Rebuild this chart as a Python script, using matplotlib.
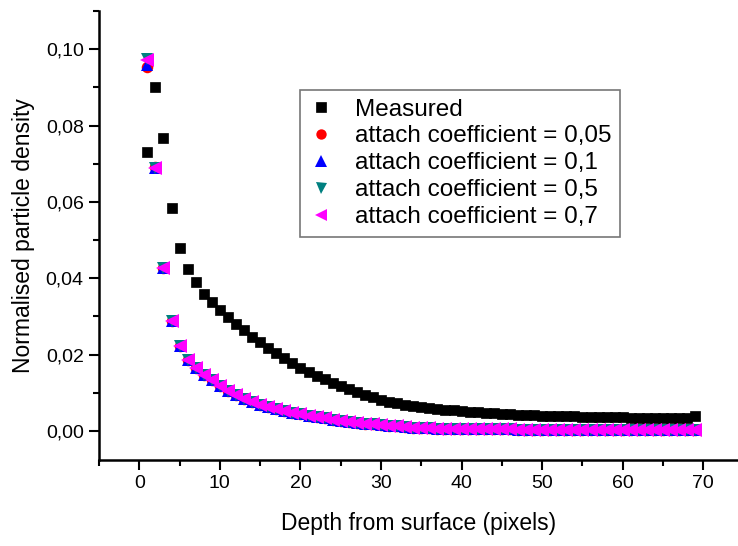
import numpy as np
import matplotlib.pyplot as plt
from matplotlib.ticker import FuncFormatter, MultipleLocator

plt.rcParams['font.family'] = ['Liberation Sans', 'DejaVu Sans']

# Depth from surface (pixels)
depth = list(range(1, 70))

# Measured normalised particle density
measured = [0.0730, 0.0902, 0.0767, 0.0584, 0.0479, 0.0425, 0.0389, 0.0360, 0.0337, 0.0317,
            0.0298, 0.0280, 0.0264, 0.0247, 0.0232, 0.0217, 0.0203, 0.0190, 0.0178, 0.0166,
            0.0155, 0.0145, 0.0135, 0.0126, 0.0117, 0.0109, 0.0101, 0.0094, 0.0088, 0.0082,
            0.0077, 0.0073, 0.0069, 0.0066, 0.0063, 0.0060, 0.0058, 0.0056, 0.0054, 0.0052,
            0.0050, 0.0049, 0.0047, 0.0046, 0.0045, 0.0044, 0.0043, 0.0042, 0.0041, 0.0040,
            0.0039, 0.0039, 0.0038, 0.0038, 0.0037, 0.0037, 0.0037, 0.0036, 0.0036, 0.0036,
            0.0035, 0.0035, 0.0035, 0.0035, 0.0035, 0.0035, 0.0034, 0.0035, 0.0038]

# simulated curves are practically identical from depth 3 onwards
sim_tail = [0.0428, 0.0288, 0.0222, 0.0186, 0.0164, 0.0147, 0.0133, 0.0119,
            0.0106, 0.0095, 0.0085, 0.0076, 0.0068, 0.0062, 0.0057, 0.0052, 0.0048, 0.0044,
            0.0040, 0.0036, 0.0033, 0.0030, 0.0027, 0.0024, 0.0021, 0.0019, 0.0017, 0.0015,
            0.0013, 0.0012, 0.0010, 0.0009, 0.0008, 0.0007, 0.0006, 0.0006, 0.0005, 0.0005,
            0.0005, 0.0004, 0.0004, 0.0004, 0.0004, 0.0004, 0.0003, 0.0003, 0.0003, 0.0003,
            0.0003, 0.0003, 0.0003, 0.0003, 0.0002, 0.0002, 0.0002, 0.0002, 0.0002, 0.0002,
            0.0002, 0.0002, 0.0002, 0.0002, 0.0002, 0.0002, 0.0002, 0.0002, 0.0002]

att_005 = [0.0953, 0.0692] + sim_tail
att_01 = [0.0958, 0.0690] + sim_tail
att_05 = [0.0975, 0.0689] + sim_tail
att_07 = [0.0972, 0.0689] + sim_tail

fig = plt.figure(figsize=(7.38, 5.46), dpi=100)
ax = fig.add_axes([99 / 738, 1 - 460 / 546, 1 - 99 / 738, (460 - 11) / 546])

ax.plot(depth, measured, 's', color='black', ms=7.3, mew=0.5, label='Measured')
ax.plot(depth, att_005, 'o', color='#FF0000', ms=8.3, mew=0, label='attach coefficient = 0,05')
ax.plot(depth, att_01, '^', color='#0000FF', ms=8.8, mew=0, label='attach coefficient = 0,1')
ax.plot(depth, att_05, 'v', color='#008080', ms=8.8, mew=0, label='attach coefficient = 0,5')
ax.plot(depth, att_07, '<', color='#FF00FF', ms=9.5, mew=0, label='attach coefficient = 0,7')

ax.set_xlim(-5, 74.3)
ax.set_ylim(-0.0076, 0.11)

ax.spines['top'].set_visible(False)
ax.spines['right'].set_visible(False)
ax.spines['left'].set_linewidth(1.8)
ax.spines['bottom'].set_linewidth(1.8)

ax.xaxis.set_major_locator(MultipleLocator(10))
ax.xaxis.set_minor_locator(MultipleLocator(5))
ax.yaxis.set_major_locator(MultipleLocator(0.02))
ax.yaxis.set_minor_locator(MultipleLocator(0.01))
ax.yaxis.set_major_formatter(FuncFormatter(lambda v, p: f'{v:.2f}'.replace('.', ',')))
ax.tick_params(which='major', direction='out', length=7, width=1.5, labelsize=14, pad=4)
ax.tick_params(which='minor', direction='out', length=4, width=1.5)

ax.set_xlabel('Depth from surface (pixels)', fontsize=16.5, labelpad=14)
ax.set_ylabel('Normalised particle density', fontsize=16.5, labelpad=8)

leg = ax.legend(loc='upper left', bbox_to_anchor=(0.3146, 0.824), borderaxespad=0,
                fontsize=17.5, frameon=True, fancybox=False, edgecolor='#555555',
                handlelength=1.0, handletextpad=0.9, labelspacing=0.2, borderpad=0.35,
                markerscale=0.9)
leg.get_frame().set_linewidth(1.2)

fig.savefig('out.png', dpi=100)
